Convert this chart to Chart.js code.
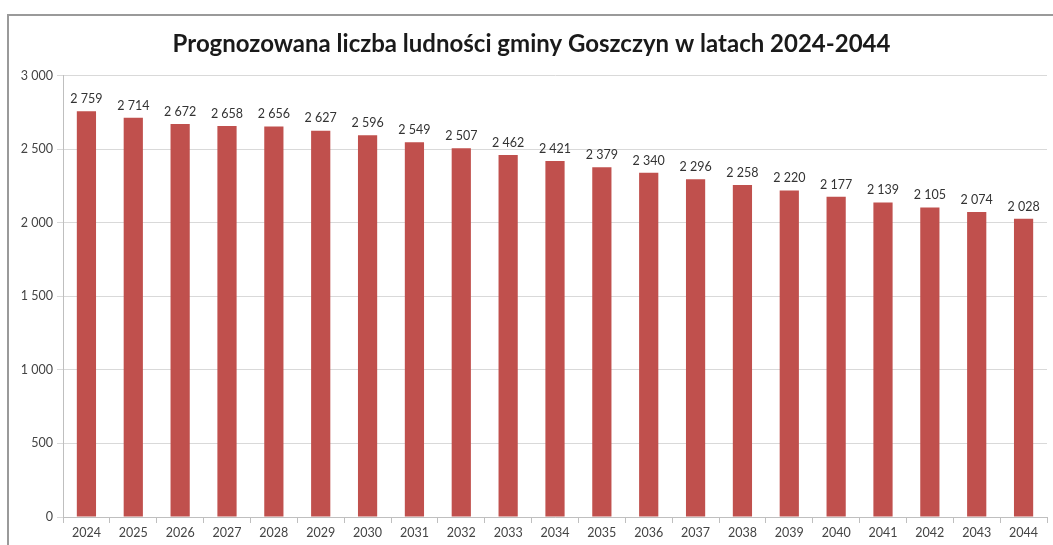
<!DOCTYPE html>
<html>
<head>
<meta charset="utf-8">
<script src="https://cdn.jsdelivr.net/npm/chart.js@4"></script>
<style>
  body { margin: 0; background: #fff; }
  #wrap { width: 1053px; height: 545px; position: relative; }
</style>
</head>
<body>
<div id="wrap"><canvas id="chartBar"></canvas></div>
<script>
const years = ["2024", "2025", "2026", "2027", "2028", "2029", "2030", "2031", "2032", "2033", "2034",
  "2035", "2036", "2037", "2038", "2039", "2040", "2041", "2042", "2043", "2044"];
const population = [2759, 2714, 2672, 2658, 2656, 2627, 2596, 2549, 2507, 2462, 2421,
  2379, 2340, 2296, 2258, 2220, 2177, 2139, 2105, 2074, 2028];
const titleText = "Prognozowana liczba ludności gminy Goszczyn w latach 2024-2044";

function fmt(v) {
  return String(v).replace(/\B(?=(\d{3})+(?!\d))/g, " ");
}

// gray frame like the excel chart area
const frame = {
  id: "frame",
  beforeDraw(chart) {
    const ctx = chart.ctx;
    ctx.save();
    ctx.strokeStyle = "#9a9a9a";
    ctx.lineWidth = 2;
    ctx.beginPath();
    ctx.moveTo(8, 545);
    ctx.lineTo(8, 15);
    ctx.lineTo(1053, 15);
    ctx.stroke();
    ctx.restore();
  }
};

// value labels above bars
const valueLabels = {
  id: "valueLabels",
  afterDatasetsDraw(chart) {
    const ctx = chart.ctx;
    const meta = chart.getDatasetMeta(0);
    ctx.save();
    ctx.font = "12.5px Lato";
    ctx.fillStyle = "#333";
    ctx.textAlign = "center";
    ctx.textBaseline = "bottom";
    meta.data.forEach((bar, i) => {
      ctx.fillText(fmt(population[i]), bar.x, bar.y - 6);
    });
    ctx.restore();
  }
};

const data = {
  labels: years,
  datasets: [{
    data: population,
    backgroundColor: "#C0504D",
    barPercentage: 0.41,
    categoryPercentage: 1
  }]
};

const config = {
  type: "bar",
  data,
  plugins: [frame, valueLabels],
  options: {
    responsive: false,
    animation: false,
    layout: { padding: { left: 16, right: 6, top: 0, bottom: 3 } },
    plugins: {
      legend: { display: false },
      tooltip: { enabled: false },
      title: {
        display: true,
        text: titleText,
        color: "#1a1a1a",
        font: { family: "Lato", size: 24, weight: "bold" },
        padding: { top: 30, bottom: 17 }
      }
    },
    scales: {
      x: {
        grid: { offset: true, drawOnChartArea: false, color: "#bfbfbf", tickLength: 6 },
        border: { color: "#bfbfbf" },
        ticks: { color: "#444", font: { family: "Lato", size: 12.5 }, padding: 2, maxRotation: 0 }
      },
      y: {
        min: 0,
        max: 3000,
        afterFit(scale) { scale.width = 47; },
        grid: { color: "#d9d9d9", tickLength: 6 },
        border: { color: "#bfbfbf" },
        ticks: {
          stepSize: 500,
          color: "#444",
          font: { family: "Lato", size: 12.5 },
          padding: 4,
          callback: v => fmt(v)
        }
      }
    }
  }
};

const canvas = document.getElementById("chartBar");
canvas.width = 1053;
canvas.height = 545;
new Chart(canvas, config);
</script>
</body>
</html>
